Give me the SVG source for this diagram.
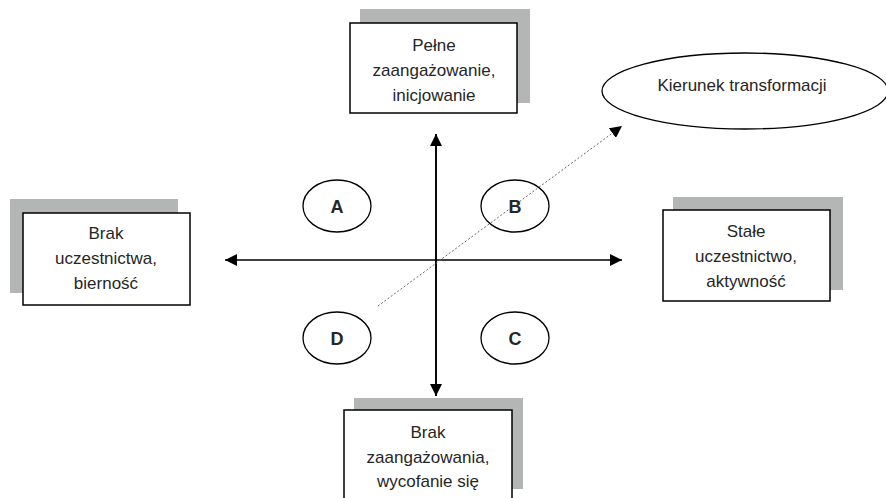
<svg xmlns="http://www.w3.org/2000/svg" width="886" height="498" viewBox="0 0 886 498">
<style>
.shadow{fill:#b4b6b6}
.box{fill:#fff;stroke:#000;stroke-width:1.5}
.lbl{font-family:"Liberation Sans",Arial,sans-serif;font-size:17px;fill:#262626;text-anchor:middle}
.circ{fill:#fff;stroke:#000;stroke-width:1.3}
.let{font-family:"Liberation Sans",Arial,sans-serif;font-size:18px;font-weight:bold;fill:#262626;text-anchor:middle}
.axis{stroke:#000;stroke-width:1.6;fill:none}
.dir{stroke:#666;stroke-width:1;stroke-dasharray:2,2;fill:none}
</style>
<defs>
<marker id="ah" markerUnits="userSpaceOnUse" markerWidth="14" markerHeight="12" refX="12" refY="6" orient="auto">
<path d="M0,0 L12,6 L0,12 z" fill="#000"/>
</marker>
</defs>
<rect width="886" height="498" fill="#fff"/>
<g id="connectors">
<line class="axis" x1="436" y1="396" x2="436" y2="134" marker-end="url(#ah)"/>
<line class="axis" x1="436" y1="134" x2="436" y2="396" marker-end="url(#ah)"/>
<line class="axis" x1="436" y1="260" x2="225" y2="260" marker-end="url(#ah)"/>
<line class="axis" x1="436" y1="260" x2="622" y2="260" marker-end="url(#ah)"/>
<line class="dir" x1="378" y1="306" x2="622" y2="126" marker-end="url(#ah)"/>
</g>
<g id="node-top">
<rect class="shadow" x="360" y="9" width="170" height="94"/>
<rect class="box" x="350" y="23" width="167" height="90"/>
<text class="lbl" x="434" y="51">Pełne</text>
<text class="lbl" x="434" y="76">zaangażowanie,</text>
<text class="lbl" x="434" y="101">inicjowanie</text>
</g>
<g id="node-left">
<rect class="shadow" x="10" y="199" width="168" height="94"/>
<rect class="box" x="23" y="213" width="167" height="92"/>
<text class="lbl" x="106" y="239">Brak</text>
<text class="lbl" x="106" y="264">uczestnictwa,</text>
<text class="lbl" x="106" y="289">bierność</text>
</g>
<g id="node-right">
<rect class="shadow" x="673" y="197" width="170" height="93"/>
<rect class="box" x="663" y="210" width="167" height="91"/>
<text class="lbl" x="746" y="237">Stałe</text>
<text class="lbl" x="746" y="262">uczestnictwo,</text>
<text class="lbl" x="746" y="287">aktywność</text>
</g>
<g id="node-bottom">
<rect class="shadow" x="354" y="398" width="169" height="91"/>
<rect class="box" x="344" y="410" width="168" height="100"/>
<text class="lbl" x="428" y="438">Brak</text>
<text class="lbl" x="428" y="463">zaangażowania,</text>
<text class="lbl" x="428" y="487">wycofanie się</text>
</g>
<g id="node-direction">
<ellipse class="circ" cx="745" cy="91" rx="143" ry="38"/>
<text class="lbl" x="742" y="91">Kierunek transformacji</text>
</g>
<g id="node-A">
<ellipse class="circ" cx="337" cy="206" rx="34" ry="26"/>
<text class="let" x="337" y="213">A</text>
</g>
<g id="node-B">
<ellipse class="circ" cx="515" cy="206" rx="34" ry="26" style="fill:none"/>
<text class="let" x="515" y="213">B</text>
</g>
<g id="node-C">
<ellipse class="circ" cx="515" cy="338" rx="34" ry="26"/>
<text class="let" x="515" y="345">C</text>
</g>
<g id="node-D">
<ellipse class="circ" cx="337" cy="338" rx="34" ry="26"/>
<text class="let" x="337" y="345">D</text>
</g>
</svg>
